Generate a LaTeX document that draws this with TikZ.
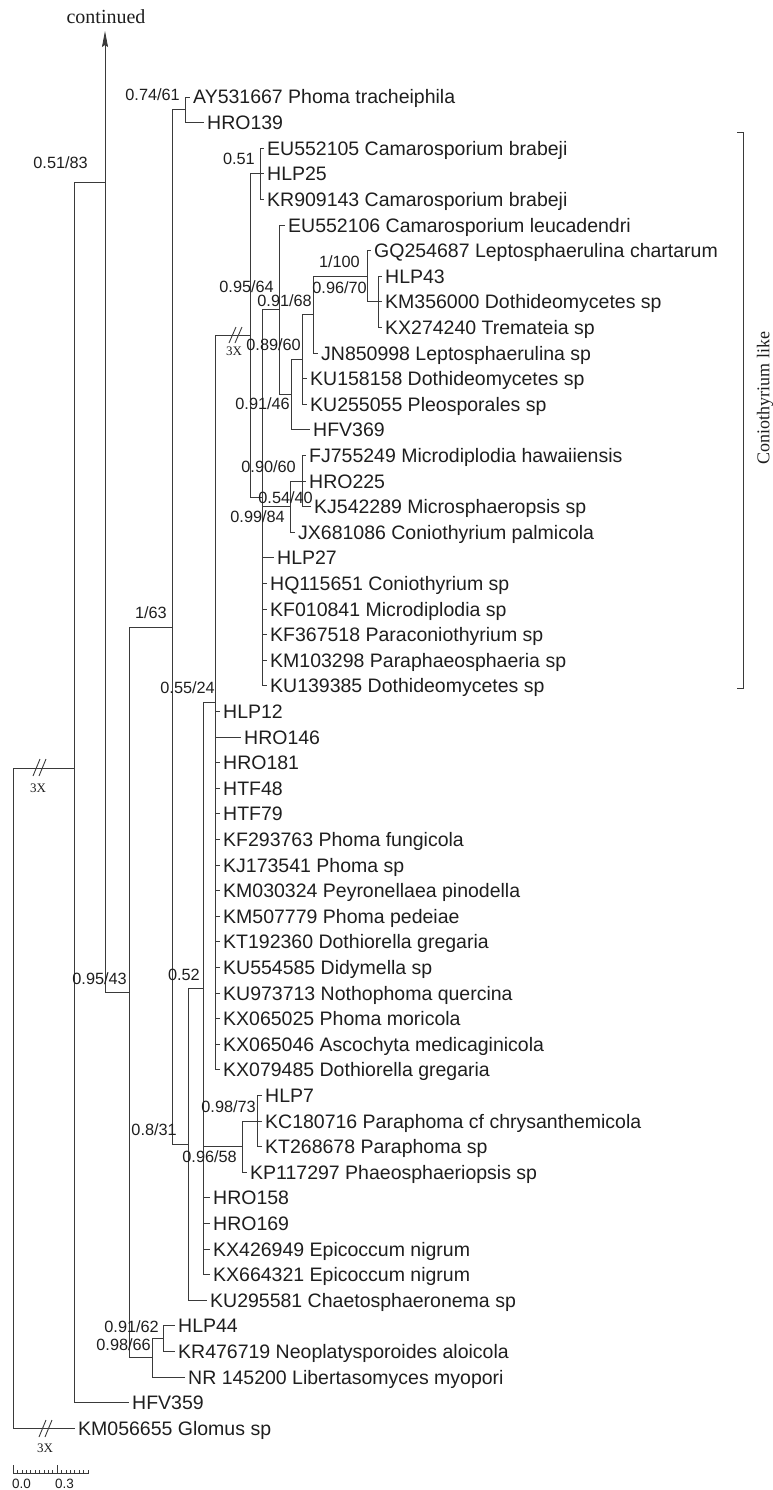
\documentclass[tikz,border=0pt]{standalone}
\usepackage{fontspec}
\setmainfont{Liberation Sans}
\newfontfamily\serifface{Liberation Serif}
\usetikzlibrary{arrows.meta}
\definecolor{ln}{HTML}{3A3A3A}
\definecolor{tx}{HTML}{1E1E1E}
\begin{document}
\begin{tikzpicture}[x=1pt,y=-1pt,
  br/.style={line width=0.9pt, draw=ln},
  tax/.style={anchor=west, inner xsep=3pt, inner ysep=0pt, text height=14pt, text depth=0pt, font=\fontsize{19.5}{20}\selectfont, text=tx},
  bs/.style={anchor=east, inner sep=0pt, text height=11.7pt, text depth=0pt, font=\fontsize{16.3}{17}\selectfont, text=tx},
  sx/.style={font=\serifface\fontsize{13}{13}\selectfont, inner sep=0pt, text=tx}]
\useasboundingbox (0,0) rectangle (773,1490);

% ---------- tips ----------
\node[tax] (t1) at (190,97) {AY531667 Phoma tracheiphila};
\node[tax] (t2) at (204,122.6) {HRO139};
\node[tax] (t3) at (264,148.2) {EU552105 Camarosporium brabeji};
\node[tax] (t4) at (264,173.8) {HLP25};
\node[tax] (t5) at (264,199.4) {KR909143 Camarosporium brabeji};
\node[tax] (t6) at (285,225) {EU552106 Camarosporium leucadendri};
\node[tax] (t7) at (371,250.6) {GQ254687 Leptosphaerulina chartarum};
\node[tax] (t8) at (382,276.2) {HLP43};
\node[tax] (t9) at (382,301.8) {KM356000 Dothideomycetes sp};
\node[tax] (t10) at (382,327.4) {KX274240 Tremateia sp};
\node[tax] (t11) at (318,353) {JN850998 Leptosphaerulina sp};
\node[tax] (t12) at (307,378.6) {KU158158 Dothideomycetes sp};
\node[tax] (t13) at (307,404.2) {KU255055 Pleosporales sp};
\node[tax] (t14) at (310,429.8) {HFV369};
\node[tax] (t15) at (306,455.4) {FJ755249 Microdiplodia hawaiiensis};
\node[tax] (t16) at (306,481) {HRO225};
\node[tax] (t17) at (311,506.6) {KJ542289 Microsphaeropsis sp};
\node[tax] (t18) at (295,532.2) {JX681086 Coniothyrium palmicola};
\node[tax] (t19) at (274,557.8) {HLP27};
\node[tax] (t20) at (267,583.4) {HQ115651 Coniothyrium sp};
\node[tax] (t21) at (267,609) {KF010841 Microdiplodia sp};
\node[tax] (t22) at (267,634.6) {KF367518 Paraconiothyrium sp};
\node[tax] (t23) at (267,660.2) {KM103298 Paraphaeosphaeria sp};
\node[tax] (t24) at (267,685.8) {KU139385 Dothideomycetes sp};
\node[tax] (t25) at (220,711.4) {HLP12};
\node[tax] (t26) at (241,737) {HRO146};
\node[tax] (t27) at (220,762.6) {HRO181};
\node[tax] (t28) at (220,788.2) {HTF48};
\node[tax] (t29) at (220,813.8) {HTF79};
\node[tax] (t30) at (220,839.4) {KF293763 Phoma fungicola};
\node[tax] (t31) at (220,865) {KJ173541 Phoma sp};
\node[tax] (t32) at (220,890.6) {KM030324 Peyronellaea pinodella};
\node[tax] (t33) at (220,916.2) {KM507779 Phoma pedeiae};
\node[tax] (t34) at (220,941.8) {KT192360 Dothiorella gregaria};
\node[tax] (t35) at (220,967.4) {KU554585 Didymella sp};
\node[tax] (t36) at (220,993) {KU973713 Nothophoma quercina};
\node[tax] (t37) at (220,1018.6) {KX065025 Phoma moricola};
\node[tax] (t38) at (220,1044.2) {KX065046 Ascochyta medicaginicola};
\node[tax] (t39) at (220,1069.8) {KX079485 Dothiorella gregaria};
\node[tax] (t40) at (262,1095.4) {HLP7};
\node[tax] (t41) at (262,1121) {KC180716 Paraphoma cf chrysanthemicola};
\node[tax] (t42) at (262,1146.6) {KT268678 Paraphoma sp};
\node[tax] (t43) at (247,1172.2) {KP117297 Phaeosphaeriopsis sp};
\node[tax] (t44) at (210,1197.8) {HRO158};
\node[tax] (t45) at (210,1223.4) {HRO169};
\node[tax] (t46) at (210,1249) {KX426949 Epicoccum nigrum};
\node[tax] (t47) at (210,1274.6) {KX664321 Epicoccum nigrum};
\node[tax] (t48) at (207,1300.2) {KU295581 Chaetosphaeronema sp};
\node[tax] (t49) at (175,1325.8) {HLP44};
\node[tax] (t50) at (175,1351.4) {KR476719 Neoplatysporoides aloicola};
\node[tax] (t51) at (185,1377) {NR 145200 Libertasomyces myopori};
\node[tax] (t52) at (129,1402.6) {HFV359};
\node[tax] (t53) at (75,1428.2) {KM056655 Glomus sp};

% ---------- internal nodes ----------
\coordinate (n185) at (185,109.8);
\coordinate (n260) at (260,173.8);
\coordinate (n378) at (378,301.8);
\coordinate (n367) at (367,276.2);
\coordinate (n313) at (313,314.6);
\coordinate (n302a) at (302,359.4);
\coordinate (n291) at (291,394.6);
\coordinate (n279) at (279,309.8);
\coordinate (n302b) at (302,481);
\coordinate (n290) at (290,506.6);
\coordinate (n262) at (262,497.8);
\coordinate (n250) at (250,335.8);
\coordinate (n215) at (215,702.8);
\coordinate (n257) at (257,1121);
\coordinate (n242) at (242,1146.6);
\coordinate (n203) at (203,988.7);
\coordinate (n188) at (188,1144.45);
\coordinate (n172) at (172,627.1);
\coordinate (n163) at (163,1338.6);
\coordinate (n152) at (152,1357.8);
\coordinate (n129) at (129,992.5);
\coordinate (n105) at (105,182);
\coordinate (n74) at (74,768);
\coordinate (root) at (13,1098);
\coordinate (cont) at (105,31);

% ---------- branches ----------
\draw[br] (n185) |- (t1.west) (n185) |- (t2.west);
\draw[br] (n260) |- (t3.west) (n260) |- (t4.west) (n260) |- (t5.west);
\draw[br] (n378) |- (t8.west) (n378) |- (t9.west) (n378) |- (t10.west);
\draw[br] (n367) |- (t7.west) (n367) |- (n378);
\draw[br] (n313) |- (n367) (n313) |- (t11.west);
\draw[br] (n302a) |- (n313) (n302a) |- (t12.west) (n302a) |- (t13.west);
\draw[br] (n291) |- (n302a) (n291) |- (t14.west);
\draw[br] (n279) |- (t6.west) (n279) |- (n291);
\draw[br] (n302b) |- (t15.west) (n302b) |- (t16.west) (n302b) |- (t17.west);
\draw[br] (n290) |- (n302b) (n290) |- (t18.west);
\draw[br] (n262) |- (n279) (n262) |- (n290)
  (n262) |- (t19.west) (n262) |- (t20.west) (n262) |- (t21.west)
  (n262) |- (t22.west) (n262) |- (t23.west) (n262) |- (t24.west);
\draw[br] (n250) |- (n260) (n250) |- (n262);
\draw[br] (n215) |- (n250);
\foreach \i in {25,...,39} { \draw[br] (n215) |- (t\i.west); }
\draw[br] (n257) |- (t40.west) (n257) |- (t41.west) (n257) |- (t42.west);
\draw[br] (n242) |- (n257) (n242) |- (t43.west);
\draw[br] (n203) |- (n215) (n203) |- (n242);
\foreach \i in {44,...,47} { \draw[br] (n203) |- (t\i.west); }
\draw[br] (n188) |- (n203) (n188) |- (t48.west);
\draw[br] (n172) |- (n185) (n172) |- (n188);
\draw[br] (n163) |- (t49.west) (n163) |- (t50.west);
\draw[br] (n152) |- (n163) (n152) |- (t51.west);
\draw[br] (n129) |- (n172) (n129) |- (n152);
\draw[br, -{Stealth[length=16pt, width=6pt, inset=2pt]}] (n105) -- (cont);
\draw[br] (n105) |- (n129);
\draw[br] (n74) |- (n105) (n74) |- (t52.west);
\draw[br] (root) |- (n74) (root) |- (t53.west);

% ---------- break marks ----------
\draw[br] (33,776) -- (40,759) (39,776) -- (46,759);
\node[sx] (x1) at (38,788) {3X};
\draw[br] (229,343) -- (236,327) (235,343) -- (242,327);
\node[sx] (x2) at (234,351) {3X};
\draw[br] (39,1437) -- (46,1420) (45,1437) -- (52,1420);
\node[sx] (x3) at (45,1448) {3X};

% ---------- support values ----------
\node[bs] (b1) at (180,95) {0.74/61};
\node[bs] (b2) at (88,163) {0.51/83};
\node[bs] (b3) at (255,159) {0.51};
\node[bs] (b4) at (274,287) {0.95/64};
\node[bs] (b5) at (312,301) {0.91/68};
\node[bs] (b6) at (360,262) {1/100};
\node[bs] (b7) at (367,288) {0.96/70};
\node[bs] (b8) at (301,345) {0.89/60};
\node[bs] (b9) at (290,404) {0.91/46};
\node[bs] (b10) at (296,467) {0.90/60};
\node[bs] (b11) at (313,498) {0.54/40};
\node[bs] (b12) at (285,517) {0.99/84};
\node[bs] (b13) at (215,688) {0.55/24};
\node[bs] (b14) at (167,613) {1/63};
\node[bs] (b15) at (200,975) {0.52};
\node[bs] (b16) at (127,979) {0.95/43};
\node[bs] (b17) at (177,1130) {0.8/31};
\node[bs] (b18) at (256,1107) {0.98/73};
\node[bs] (b19) at (237,1157) {0.96/58};
\node[bs] (b20) at (159,1327) {0.91/62};
\node[bs] (b21) at (151,1345) {0.98/66};

% ---------- continued ----------
\node[font=\serifface\fontsize{20}{20}\selectfont, text=tx, inner sep=0pt] (contlab) at (106,17) {continued};

% ---------- clade bracket ----------
\coordinate (bt) at (737,132);
\coordinate (bb) at (737,688);
\draw[br] (bt) -- ++(6,0) |- (bb);
\node[rotate=90, font=\serifface\fontsize{18}{18}\selectfont, text=tx, inner sep=0pt] (clab) at (765,398) {Coniothyrium like};

% ---------- scale bar ----------
\coordinate (s0) at (13,1473);
\coordinate (s1) at (89,1473);
\draw[line width=0.7pt, draw=ln] (s0) -- (s1);
\foreach \k in {0,...,17} { \draw[line width=0.6pt, draw=ln] ({13+\k*4.4},1473) -- ++(0,-3.5); }
\draw[line width=0.7pt, draw=ln] (s0) -- ++(0,-8);
\draw[line width=0.7pt, draw=ln] (57,1473) -- ++(0,-8);
\node[anchor=west, inner sep=0pt, font=\fontsize{13.5}{14}\selectfont, text=tx, text height=9.7pt, text depth=0pt] (l0) at (12,1484) {0.0};
\node[anchor=west, inner sep=0pt, font=\fontsize{13.5}{14}\selectfont, text=tx, text height=9.7pt, text depth=0pt] (l3) at (55,1484) {0.3};
\end{tikzpicture}
\end{document}
